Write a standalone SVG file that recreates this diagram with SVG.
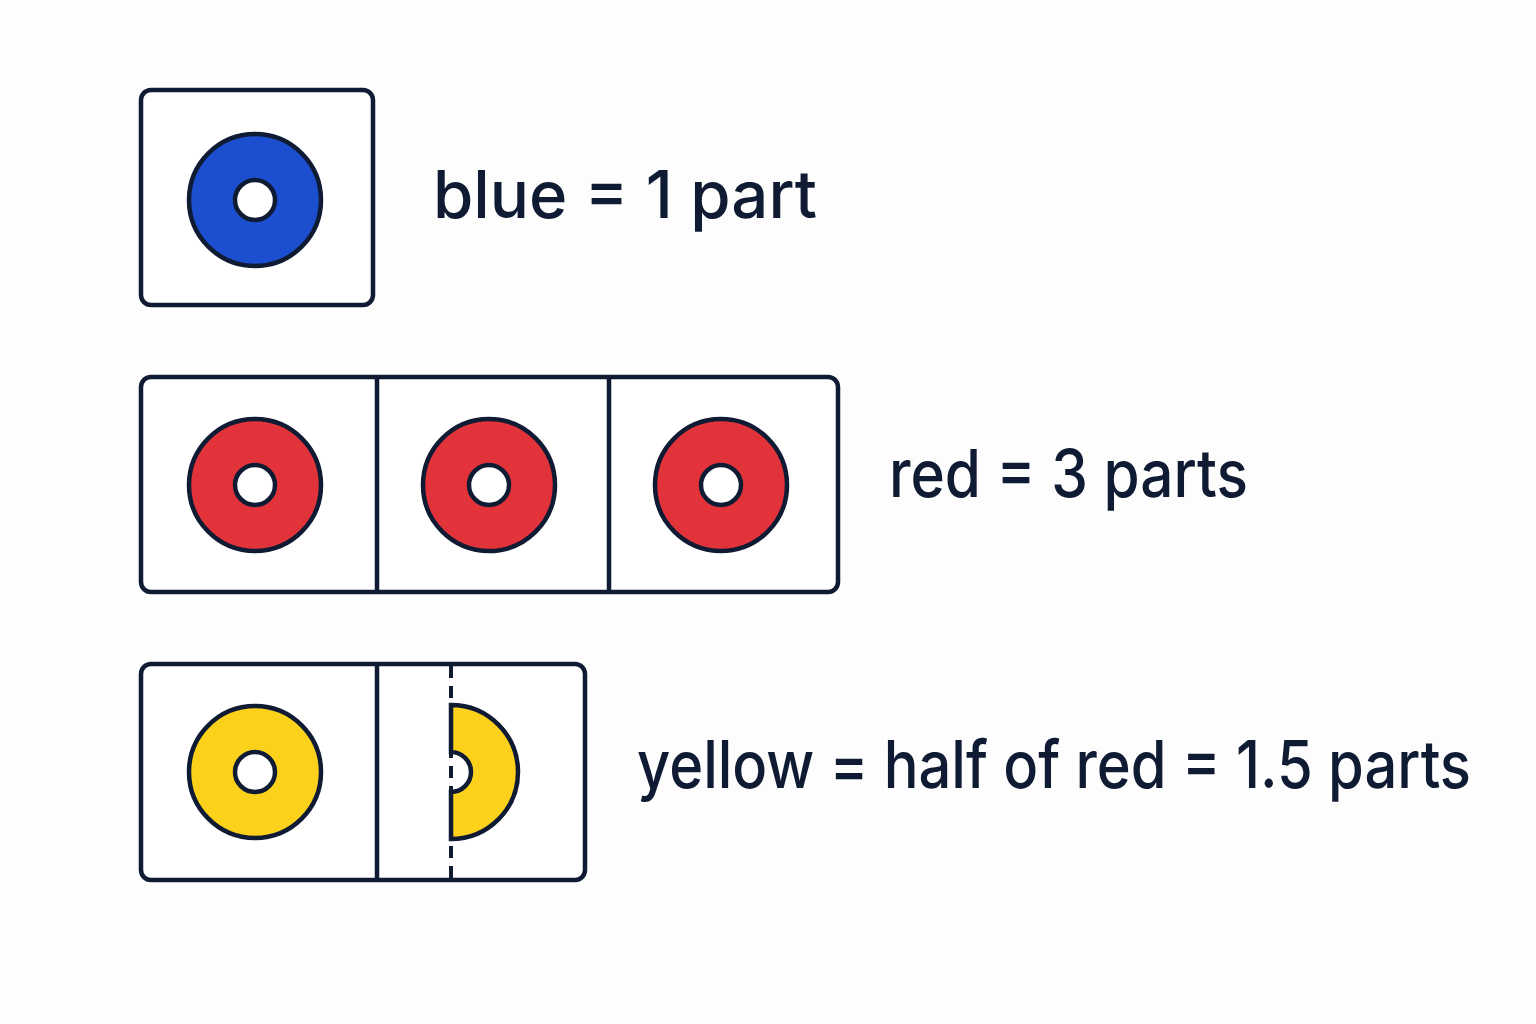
<svg xmlns="http://www.w3.org/2000/svg" width="1536" height="1024" viewBox="0 0 1536 1024">
<style>
.box{fill:#fff;stroke:#0f1a33;stroke-width:4.5}
.ln{stroke:#0f1a33;stroke-width:4.5}
.d{stroke:#0f1a33;stroke-width:4.5}
.hole{fill:#fff;stroke:#0f1a33;stroke-width:4.5}
.t{font-family:Inter,"Liberation Sans",sans-serif;font-size:66px;font-weight:500;fill:#0f1a33}
</style>
<rect width="1536" height="1024" fill="#fdfdfd"/>
<g id="blue">
<rect class="box" x="141" y="90" width="232" height="215" rx="10"/>
<circle class="d" cx="255" cy="200" r="66" fill="#1c4fcf"/>
<circle class="hole" cx="255" cy="200" r="20"/>
<text class="t" x="433" y="218" textLength="384" lengthAdjust="spacingAndGlyphs">blue = 1 part</text>
</g>
<g id="red">
<rect class="box" x="141" y="377" width="697" height="215" rx="10"/>
<line class="ln" x1="377" y1="377" x2="377" y2="592"/>
<line class="ln" x1="609" y1="377" x2="609" y2="592"/>
<circle class="d" cx="255" cy="485" r="66" fill="#e2333a"/>
<circle class="hole" cx="255" cy="485" r="20"/>
<circle class="d" cx="489" cy="485" r="66" fill="#e2333a"/>
<circle class="hole" cx="489" cy="485" r="20"/>
<circle class="d" cx="721" cy="485" r="66" fill="#e2333a"/>
<circle class="hole" cx="721" cy="485" r="20"/>
<text class="t" x="889" y="497" textLength="359" lengthAdjust="spacingAndGlyphs">red = 3 parts</text>
</g>
<g id="yellow">
<rect class="box" x="141" y="664" width="444" height="216" rx="10"/>
<line class="ln" x1="377" y1="664" x2="377" y2="880"/>
<circle class="d" cx="255" cy="772" r="66" fill="#fcd11c"/>
<circle class="hole" cx="255" cy="772" r="20"/>
<path class="d" d="M451,705 A67,67 0 0 1 451,839 L451,792 A20,20 0 0 0 451,752 Z" fill="#fcd11c"/>
<line x1="451" y1="666" x2="451" y2="878" stroke="#0f1a33" stroke-width="4" stroke-dasharray="12,8"/>
<text class="t" x="637" y="788" textLength="834" lengthAdjust="spacingAndGlyphs">yellow = half of red = 1.5 parts</text>
</g>
</svg>
